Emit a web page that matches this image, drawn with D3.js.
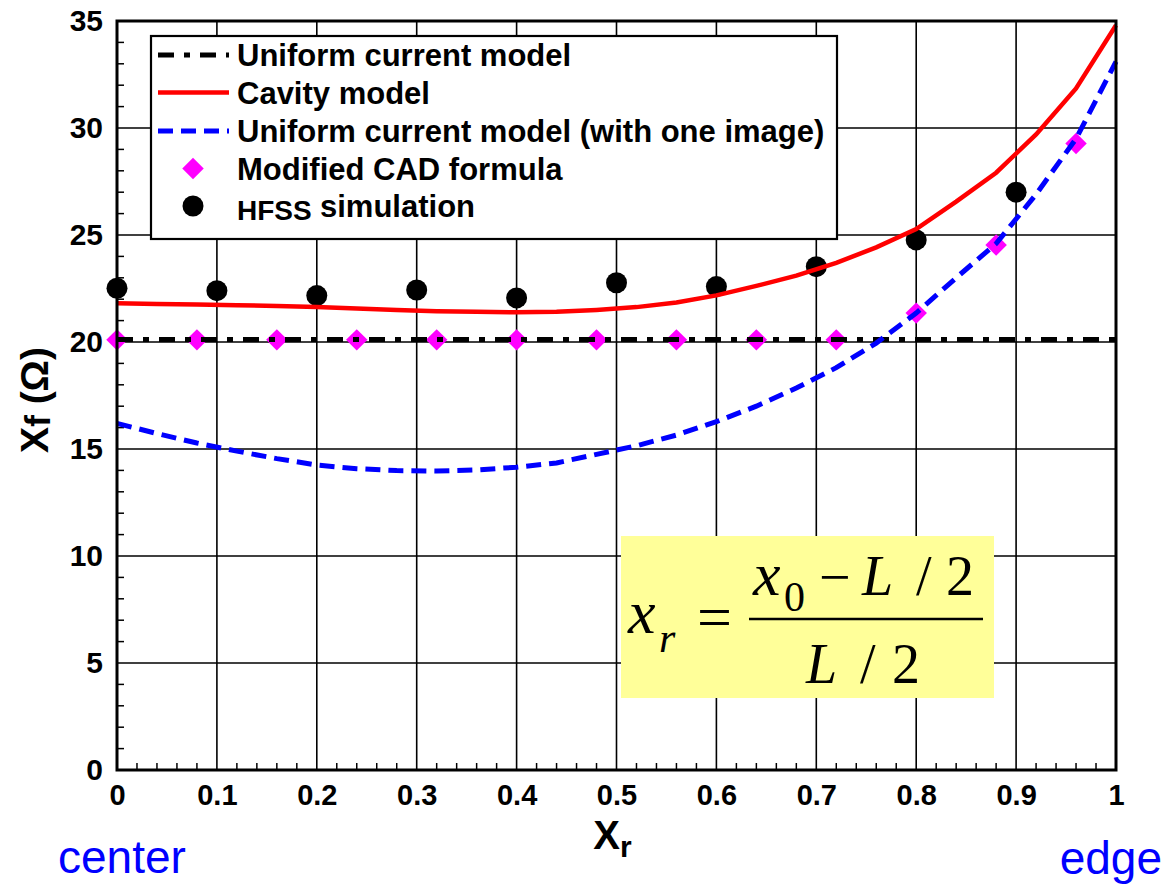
<!DOCTYPE html>
<html>
<head>
<meta charset="utf-8">
<script src="https://cdn.jsdelivr.net/npm/d3@7"></script>
<style>
  html, body { margin: 0; padding: 0; background: #fff; }
  svg { display: block; }
</style>
</head>
<body>
<svg id="chart" width="1167" height="885"></svg>
<script>
// ---------------- data ----------------
const lineX = [0,0.04,0.08,0.12,0.16,0.20,0.24,0.28,0.32,0.36,0.40,0.44,0.48,0.52,0.56,0.60,0.64,0.68,0.72,0.76,0.80,0.84,0.88,0.92,0.96,1.00];
const uniformCurrent = [20.12,20.12,20.12,20.12,20.12,20.12,20.12,20.12,20.12,20.12,20.12,20.12,20.12,20.12,20.12,20.12,20.12,20.12,20.12,20.12,20.12,20.12,20.12,20.12,20.12,20.12];
const cavityModel = [21.81,21.78,21.75,21.72,21.68,21.63,21.57,21.50,21.44,21.41,21.39,21.41,21.50,21.63,21.85,22.18,22.62,23.10,23.70,24.42,25.28,26.56,27.91,29.70,31.85,34.80];
const uniformImage = [16.20,15.72,15.28,14.90,14.55,14.25,14.08,13.99,13.97,14.02,14.15,14.35,14.75,15.15,15.65,16.28,17.00,17.85,18.80,19.95,21.35,23.00,24.60,26.90,29.50,33.10];
const cadX = [0,0.08,0.16,0.24,0.32,0.40,0.48,0.56,0.64,0.72,0.80,0.88,0.96];
const cadY = [20.1,20.1,20.1,20.1,20.1,20.1,20.1,20.1,20.1,20.1,21.35,24.53,29.28];
const hfssX = [0,0.1,0.2,0.3,0.4,0.5,0.6,0.7,0.8,0.9];
const hfssY = [22.51,22.40,22.17,22.43,22.06,22.77,22.59,23.52,24.77,27.00];
const xTicks = [0,0.1,0.2,0.3,0.4,0.5,0.6,0.7,0.8,0.9,1];
const xTickLabels = ["0","0.1","0.2","0.3","0.4","0.5","0.6","0.7","0.8","0.9","1"];
const yTicks = [0,5,10,15,20,25,30,35];
const yTickLabels = ["0","5","10","15","20","25","30","35"];
const legendLabels = ["Uniform current model","Cavity model","Uniform current model (with one image)","Modified CAD formula"];

// ---------------- layout ----------------
const svg = d3.select("#chart");
const L = 117, R = 1116, T = 21, B = 770;
const x = d3.scaleLinear().domain([0,1]).range([L,R]);
const y = d3.scaleLinear().domain([0,35]).range([B,T]);
const sans = "'Liberation Sans', Arial, Helvetica, sans-serif";
const serif = "'Liberation Serif', 'Times New Roman', serif";

// grid lines
const grid = svg.append("g");
grid.selectAll("line.vx").data(xTicks.slice(1,-1)).join("line")
  .attr("x1", d=>x(d)).attr("x2", d=>x(d)).attr("y1", T).attr("y2", B)
  .attr("stroke","#000").attr("stroke-width",1.6);
grid.selectAll("line.hy").data(yTicks.slice(1,-1)).join("line")
  .attr("x1", L).attr("x2", R).attr("y1", d=>y(d)).attr("y2", d=>y(d))
  .attr("stroke","#000").attr("stroke-width",1.6);

// minor ticks (inside)
const xMinor = d3.range(0,51).map(i=>i/50).filter(v=>Math.round(v*50)%5!==0);
const yMinor = d3.range(0,36).filter(v=>v%5!==0);
svg.append("g").selectAll("line").data(xMinor).join("line")
  .attr("x1", d=>x(d)).attr("x2", d=>x(d)).attr("y1", B).attr("y2", B-7)
  .attr("stroke","#000").attr("stroke-width",1.5);
svg.append("g").selectAll("line").data(yMinor).join("line")
  .attr("x1", L).attr("x2", L+7).attr("y1", d=>y(d)).attr("y2", d=>y(d))
  .attr("stroke","#000").attr("stroke-width",1.5);

// formula box
const fb = svg.append("g");
fb.append("rect").attr("x",621).attr("y",536).attr("width",373).attr("height",162).attr("fill","#ffff99");

function ft(txt, tx, ty, size, italic, anchor) {
  fb.append("text").attr("x",tx).attr("y",ty).attr("font-family",serif)
    .attr("font-size",size).attr("font-style", italic ? "italic" : "normal")
    .attr("text-anchor", anchor || "start").attr("fill","#000").text(txt);
}
ft("x", 628, 633, 62, true);
ft("r", 659, 652, 42, true);
ft("=", 697, 638, 62, false);
fb.append("line").attr("x1",749).attr("x2",983).attr("y1",619).attr("y2",619).attr("stroke","#000").attr("stroke-width",2.5);
ft("x", 753, 595, 62, true);
ft("0", 784, 611, 42, false);
ft("\u2212", 819, 596, 56, false);
ft("L", 862, 595, 56, true);
ft("/", 916, 595, 56, false);
ft("2", 946, 595, 56, false);
ft("L", 806, 683, 56, true);
ft("/", 860, 683, 56, false);
ft("2", 892, 683, 56, false);

// markers
const cadData = cadX.map((v,i)=>({x:v,y:cadY[i]}));
const hfssData = hfssX.map((v,i)=>({x:v,y:hfssY[i]}));
const diamond = d3.symbol().type(d3.symbolSquare).size(230);
svg.append("g").selectAll("path").data(cadData).join("path")
  .attr("d", diamond).attr("transform", d=>`translate(${x(d.x)},${y(d.y)}) rotate(45)`)
  .attr("fill","#ff00ff");
svg.append("g").selectAll("circle").data(hfssData).join("circle")
  .attr("cx", d=>x(d.x)).attr("cy", d=>y(d.y)).attr("r",10.5).attr("fill","#000");

// lines
const line = d3.line().x(d=>x(d[0])).y(d=>y(d[1]));
svg.append("path").datum(lineX.map((v,i)=>[v,uniformCurrent[i]]))
  .attr("d", line).attr("fill","none").attr("stroke","#000").attr("stroke-width",5)
  .attr("stroke-dasharray","16,10,6,10");
svg.append("path").datum(lineX.map((v,i)=>[v,cavityModel[i]]))
  .attr("d", line).attr("fill","none").attr("stroke","#ff0000").attr("stroke-width",4.5);
svg.append("path").datum(lineX.map((v,i)=>[v,uniformImage[i]]))
  .attr("d", line).attr("fill","none").attr("stroke","#0000ff").attr("stroke-width",5)
  .attr("stroke-dasharray","15,8");

// frame
svg.append("rect").attr("x",L).attr("y",T).attr("width",R-L).attr("height",B-T)
  .attr("fill","none").attr("stroke","#000").attr("stroke-width",3);

// axes labels via d3 axes
const xAxis = d3.axisBottom(x).tickValues(xTicks).tickFormat((d,i)=>xTickLabels[i]).tickSize(0).tickPadding(14);
const gx = svg.append("g").attr("transform",`translate(0,${B})`).call(xAxis);
gx.select(".domain").remove();
gx.selectAll("text").attr("font-family",sans).attr("font-weight","bold").attr("font-size",29).attr("fill","#000");

const yAxis = d3.axisLeft(y).tickValues(yTicks).tickFormat((d,i)=>yTickLabels[i]).tickSize(0).tickPadding(14);
const gy = svg.append("g").attr("transform",`translate(${L},0)`).call(yAxis);
gy.select(".domain").remove();
gy.selectAll("text").attr("font-family",sans).attr("font-weight","bold").attr("font-size",30).attr("fill","#000");

// axis titles
const xt = svg.append("text").attr("x",(L+R)/2-4).attr("y",849).attr("text-anchor","middle")
  .attr("font-family",sans).attr("font-weight","bold").attr("font-size",40).attr("fill","#000");
xt.append("tspan").text("X");
xt.append("tspan").attr("font-size",30).attr("dy",8).text("r");

const yt = svg.append("text").attr("transform","translate(48,400) rotate(-90)").attr("text-anchor","middle")
  .attr("font-family",sans).attr("font-weight","bold").attr("font-size",39).attr("fill","#000");
yt.append("tspan").text("X");
yt.append("tspan").attr("font-size",35).attr("dy",2).text("f");
yt.append("tspan").attr("dy",-2).text(" (\u03A9)");

// center / edge
svg.append("text").attr("x",58).attr("y",873).attr("font-family",sans).attr("font-size",46).attr("fill","#0000ff").text("center");
svg.append("text").attr("x",1162).attr("y",874).attr("text-anchor","end").attr("font-family",sans).attr("font-size",46).attr("fill","#0000ff").text("edge");

// legend
const lg = svg.append("g");
lg.append("rect").attr("x",151).attr("y",36).attr("width",686).attr("height",203)
  .attr("fill","#fff").attr("stroke","#000").attr("stroke-width",2.2);
const rowY = [55,92.5,131,168.5,206];
const lx1 = 158, lx2 = 229, tx = 237;
lg.append("line").attr("x1",lx1).attr("x2",lx2).attr("y1",rowY[0]).attr("y2",rowY[0])
  .attr("stroke","#000").attr("stroke-width",5).attr("stroke-dasharray","16,10,6,10");
lg.append("line").attr("x1",lx1).attr("x2",lx2).attr("y1",rowY[1]).attr("y2",rowY[1])
  .attr("stroke","#ff0000").attr("stroke-width",4.5);
lg.append("line").attr("x1",lx1).attr("x2",lx2).attr("y1",rowY[2]).attr("y2",rowY[2])
  .attr("stroke","#0000ff").attr("stroke-width",5).attr("stroke-dasharray","15,8");
lg.append("path").attr("d",diamond).attr("transform",`translate(193,${rowY[3]}) rotate(45)`).attr("fill","#ff00ff");
lg.append("circle").attr("cx",193).attr("cy",rowY[4]).attr("r",10.5).attr("fill","#000");
legendLabels.forEach((t,i)=>{
  lg.append("text").attr("x",tx).attr("y",rowY[i]+11).attr("font-family",sans).attr("font-weight","bold")
    .attr("font-size",31).attr("fill","#000").text(t);
});
lg.append("text").attr("x",tx).attr("y",rowY[4]+14).attr("font-family",sans).attr("font-weight","bold")
  .attr("font-size",28).attr("fill","#000").text("HFSS");
lg.append("text").attr("x",320).attr("y",rowY[4]+11).attr("font-family",sans).attr("font-weight","bold")
  .attr("font-size",31).attr("fill","#000").text("simulation");
</script>
</body>
</html>
